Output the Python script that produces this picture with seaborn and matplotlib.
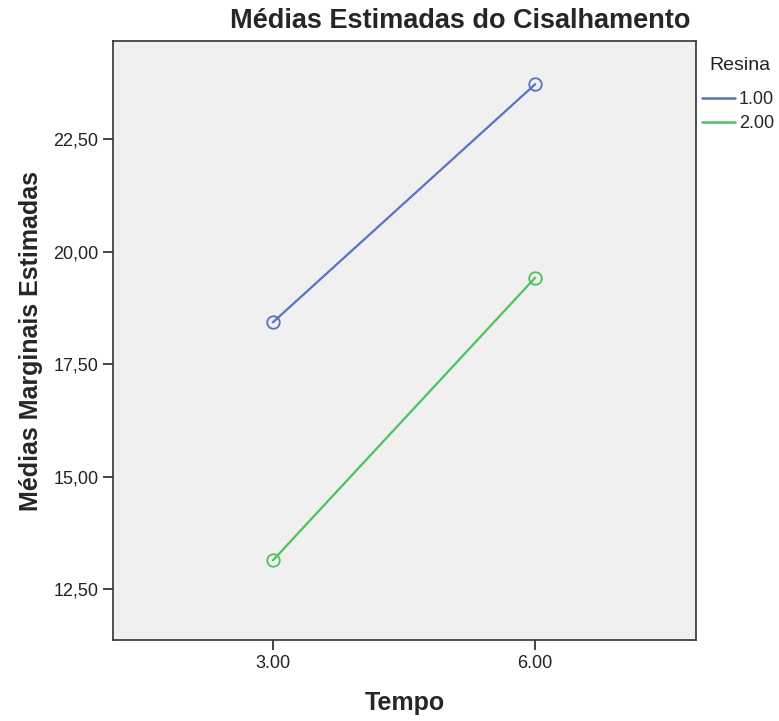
import pandas as pd
import numpy as np
import matplotlib
matplotlib.use('Agg')
import matplotlib.pyplot as plt
from matplotlib.lines import Line2D
from matplotlib.ticker import FuncFormatter
import seaborn as sns

# dados
tempo = [3.0, 6.0]
resina = ['1.00', '2.00']
medias_r1 = [18.43, 23.72]
medias_r2 = [13.14, 19.42]
yticks = [12.5, 15.0, 17.5, 20.0, 22.5]
xticks = [3.0, 6.0]
cores = ['#5b72c4', '#4cc35a']

df = pd.DataFrame({
    'Tempo': tempo * 2,
    'Resina': [resina[0]] * 2 + [resina[1]] * 2,
    'Media': medias_r1 + medias_r2,
})

sns.set_theme(style='white')
plt.rcParams['font.family'] = ['Liberation Sans', 'DejaVu Sans']

fig = plt.figure(figsize=(7.79, 7.21), dpi=100)
ax = fig.add_axes([113 / 779, 1 - 640 / 721, 583 / 779, 599 / 721])
ax.set_facecolor('#f0f0f0')

sns.lineplot(data=df, x='Tempo', y='Media', hue='Resina', palette=cores,
             marker='o', markersize=9, markerfacecolor='none',
             markeredgewidth=1.3, linewidth=1.6, ax=ax, legend=False)
# marcadores vazios com a cor de cada linha
for ln, c in zip(ax.get_lines(), cores):
    ln.set_markeredgecolor(c)

ax.set_xlim(1.17, 7.84)
ax.set_ylim(11.37, 24.68)
ax.set_xticks(xticks)
ax.set_xticklabels([f'{v:.2f}' for v in xticks])
ax.set_yticks(yticks)
ax.yaxis.set_major_formatter(FuncFormatter(lambda v, p: f'{v:.2f}'.replace('.', ',')))
ax.tick_params(axis='both', direction='out', length=7, width=1.2,
               labelsize=13, colors='#222222', left=True, bottom=True)

for s in ax.spines.values():
    s.set_color('#333333')
    s.set_linewidth(1.2)

ax.set_xlabel('Tempo', fontsize=18, fontweight='bold', labelpad=14)
ax.set_ylabel('Médias Marginais Estimadas', fontsize=18, fontweight='bold', labelpad=7)

fig.text(460 / 779, 1 - 21 / 721, 'Médias Estimadas do Cisalhamento',
         ha='center', va='center', fontsize=19.5, fontweight='bold')

# titulo da legenda separado para controlar o espaco
fig.text(709 / 779, 1 - 65 / 721, 'Resina', ha='left', va='center',
         fontsize=14, color='#222222')
handles = [Line2D([0], [0], color=c, lw=1.8) for c in cores]
leg = fig.legend(handles, resina, loc='upper left',
                 bbox_to_anchor=(702 / 779, 1 - 91 / 721), frameon=False,
                 fontsize=13, handlelength=1.8, handletextpad=0.25,
                 labelspacing=0.38, borderaxespad=0, borderpad=0)

fig.savefig('out.png', dpi=100)
